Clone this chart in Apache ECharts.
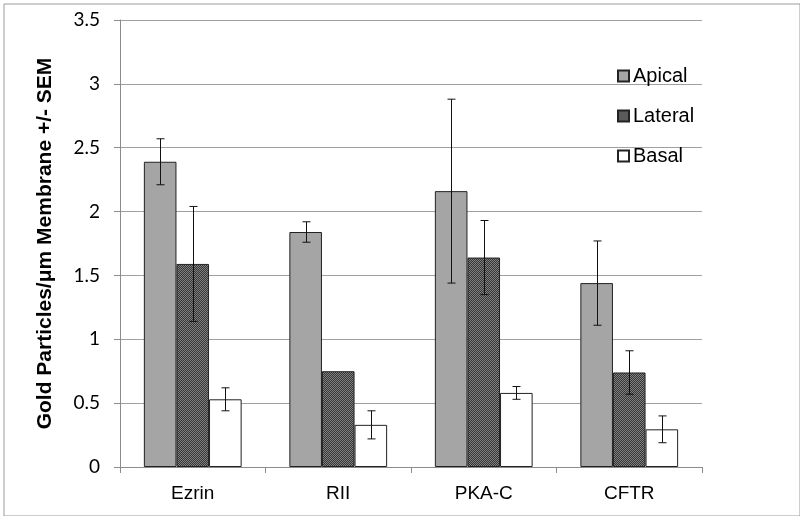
<!DOCTYPE html>
<html>
<head>
<meta charset="utf-8">
<script src="https://cdn.jsdelivr.net/npm/echarts@6/dist/echarts.min.js"></script>
<style>html,body{margin:0;padding:0;background:#fff;}#chart{width:800px;height:516px;}</style>
</head>
<body>
<div id="chart"></div>
<script>
const categories = ['Ezrin', 'RII', 'PKA-C', 'CFTR'];
const apical = [2.39, 1.84, 2.16, 1.44];
const apicalErr = [0.18, 0.08, 0.72, 0.33];
const lateral = [1.59, 0.75, 1.64, 0.74];
const lateralErr = [0.45, 0, 0.29, 0.17];
const basal = [0.53, 0.33, 0.58, 0.295];
const basalErr = [0.09, 0.11, 0.05, 0.105];
const yTicks = [0, 0.5, 1, 1.5, 2, 2.5, 3, 3.5];

const pc = document.createElement('canvas');
pc.width = 2; pc.height = 2;
const pctx = pc.getContext('2d');
pctx.fillStyle = '#363636'; pctx.fillRect(0, 0, 2, 2);
pctx.fillStyle = '#808080'; pctx.fillRect(0, 0, 1, 1); pctx.fillRect(1, 1, 1, 1);
const lateralPattern = { image: pc, repeat: 'repeat' };

const BW = 0.224;
function errSeries(name, vals, errs, offset) {
  return {
    type: 'custom',
    name: name + ' err',
    z: 10,
    silent: true,
    data: vals.map((v, i) => [i, v, errs[i]]),
    encode: { x: 0, y: 1 },
    renderItem: function (params, api) {
      const e = api.value(2);
      if (!e) return null;
      const v = api.value(1);
      const band = api.size([1, 0])[0];
      const x = Math.round(api.coord([api.value(0), 0])[0] + offset * band * BW) + 0.5;
      const top = api.coord([api.value(0), v + e])[1];
      const bot = api.coord([api.value(0), v - e])[1];
      const cw = 4;
      const st = { stroke: '#111', lineWidth: 1, fill: null };
      return {
        type: 'group',
        children: [
          { type: 'line', shape: { x1: x, y1: top, x2: x, y2: bot }, style: st },
          { type: 'line', shape: { x1: x - cw, y1: top, x2: x + cw, y2: top }, style: st },
          { type: 'line', shape: { x1: x - cw, y1: bot, x2: x + cw, y2: bot }, style: st }
        ]
      };
    }
  };
}

const chart = echarts.init(document.getElementById('chart'));
chart.setOption({
  animation: false,
  backgroundColor: '#ffffff',
  graphic: [{
    type: 'rect', left: 1.5, top: 1.5, z: -1,
    shape: { width: 796, height: 512 },
    style: { fill: null, stroke: '#9a9a9a', lineWidth: 1 }
  }],
  grid: { left: 120, right: 98, top: 20, bottom: 49 },
  legend: {
    orient: 'vertical',
    left: 617, top: 66,
    padding: 0,
    itemWidth: 11, itemHeight: 11,
    itemGap: 20,
    icon: 'rect',
    textStyle: { fontFamily: 'Liberation Sans', fontSize: 20, color: '#000', padding: [0, 0, 0, -1] },
    data: ['Apical', 'Lateral', 'Basal']
  },
  xAxis: {
    type: 'category',
    data: categories,
    axisLine: { lineStyle: { color: '#8c8c8c', width: 1 } },
    axisTick: { show: true, length: 6, lineStyle: { color: '#8c8c8c' } },
    axisLabel: { fontFamily: 'Liberation Sans', fontSize: 19, color: '#000', margin: 17 }
  },
  yAxis: {
    type: 'value',
    min: 0, max: 3.5, interval: 0.5,
    name: 'Gold Particles/\u03bcm Membrane +/- SEM',
    nameLocation: 'middle',
    nameGap: 64,
    nameTextStyle: { fontFamily: 'Liberation Sans', fontWeight: 'bold', fontSize: 21, color: '#000' },
    axisLine: { show: true, lineStyle: { color: '#8c8c8c', width: 1 } },
    axisTick: { show: true, length: 6, lineStyle: { color: '#8c8c8c' } },
    splitLine: { lineStyle: { color: '#a0a0a0', width: 1 } },
    axisLabel: {
      fontFamily: 'Lato', fontSize: 19, color: '#000', margin: 20,
      formatter: function (v) { return yTicks.indexOf(v) >= 0 ? String(v) : ''; }
    }
  },
  series: [
    { type: 'bar', name: 'Apical', data: apical, barWidth: '22.4%', barGap: '0%',
      itemStyle: { color: '#a5a5a5', borderColor: '#222', borderWidth: 1 } },
    { type: 'bar', name: 'Lateral', data: lateral, barWidth: '22.4%', barGap: '0%',
      itemStyle: { color: lateralPattern, borderColor: '#222', borderWidth: 1 } },
    { type: 'bar', name: 'Basal', data: basal, barWidth: '22.4%', barGap: '0%',
      itemStyle: { color: '#ffffff', borderColor: '#222', borderWidth: 1 } },
    errSeries('Apical', apical, apicalErr, -1),
    errSeries('Lateral', lateral, lateralErr, 0),
    errSeries('Basal', basal, basalErr, 1)
  ]
});
</script>
</body>
</html>
